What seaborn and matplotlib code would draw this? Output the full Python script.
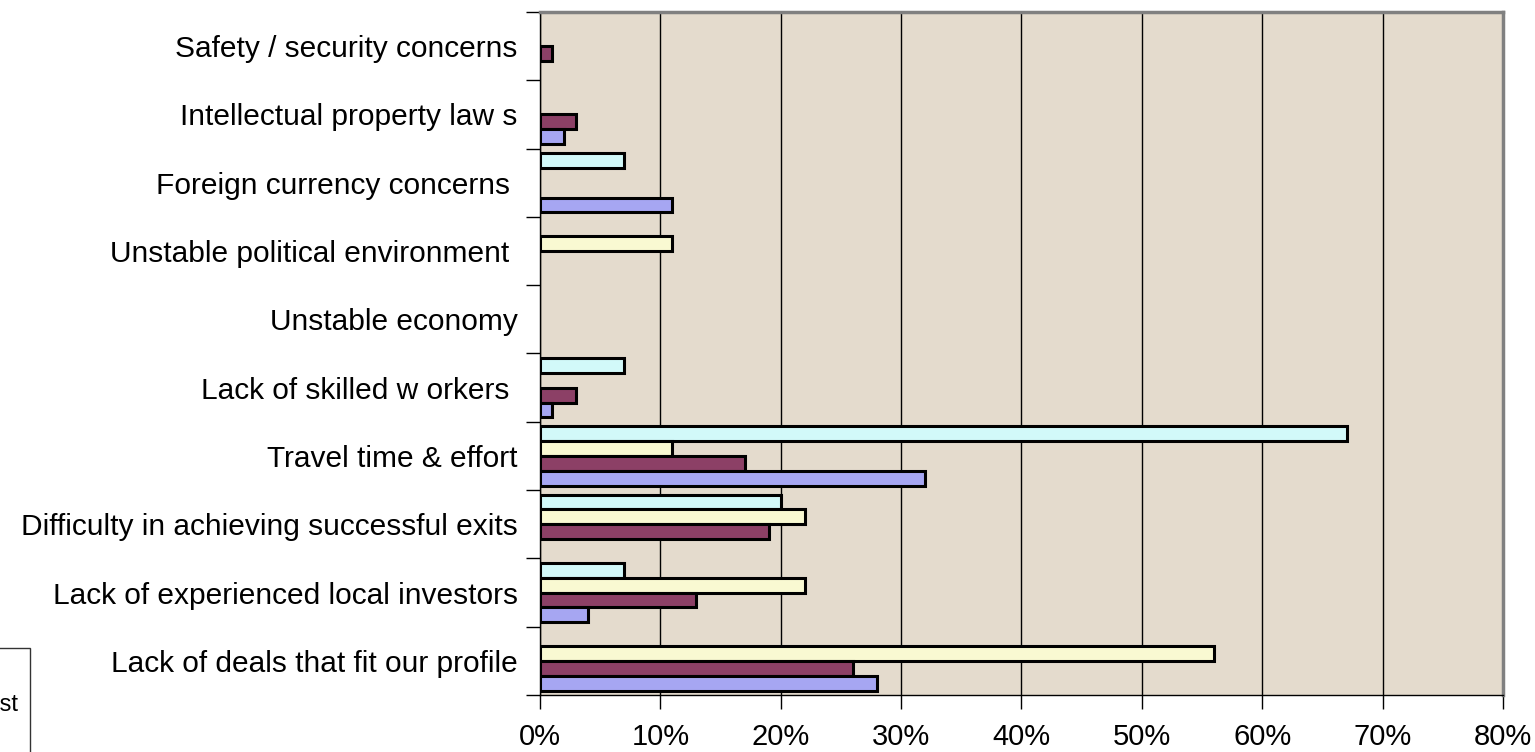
import pandas as pd
import matplotlib.pyplot as plt
import seaborn as sns
from matplotlib.ticker import FixedLocator, PercentFormatter

# Data (percent of respondents), categories top to bottom
categories = [
    "Safety / security concerns",
    "Intellectual property law s",
    "Foreign currency concerns ",
    "Unstable political environment ",
    "Unstable economy",
    "Lack of skilled w orkers ",
    "Travel time & effort",
    "Difficulty in achieving successful exits",
    "Lack of experienced local investors",
    "Lack of deals that fit our profile",
]
series_names = ["CEE", "Middle East", "Africa", "Asia"]
cee = [0, 0, 7, 0, 0, 7, 67, 20, 7, 0]
middle_east = [0, 0, 0, 11, 0, 0, 11, 22, 22, 56]
africa = [1, 3, 0, 0, 0, 3, 17, 19, 13, 26]
asia = [0, 2, 11, 0, 0, 1, 32, 0, 4, 28]
colors = ["#CCFFFF", "#FFFFCC", "#993366", "#9999FF"]
x_ticks = [0, 10, 20, 30, 40, 50, 60, 70, 80]

rows = []
for name, vals in zip(series_names, [cee, middle_east, africa, asia]):
    for cat, v in zip(categories, vals):
        rows.append({"Barrier": cat, "Region": name, "Share": v})
df = pd.DataFrame(rows)

sns.set_style("white")
plt.rcParams["font.family"] = ["Liberation Sans", "DejaVu Sans"]
plt.rcParams["text.color"] = "black"
plt.rcParams["xtick.color"] = "black"
plt.rcParams["ytick.color"] = "black"

fig = plt.figure(figsize=(15.35, 7.52), dpi=100)
ax = fig.add_axes([540 / 1535, 1 - 695 / 752, 963 / 1535, 683 / 752])
ax.set_facecolor("#E4DBCD")

sns.barplot(
    data=df,
    y="Barrier",
    x="Share",
    hue="Region",
    order=categories,
    hue_order=series_names,
    palette=colors,
    orient="h",
    width=0.87,
    edgecolor="black",
    linewidth=2.2,
    ax=ax,
)

# hide zero-length bars
for p in ax.patches:
    if p.get_width() == 0:
        p.set_visible(False)

ax.set_xlim(0, 80)
ax.set_ylim(len(categories) - 0.5, -0.5)
ax.xaxis.set_major_locator(FixedLocator(x_ticks))
ax.xaxis.set_major_formatter(PercentFormatter(decimals=0))
ax.grid(axis="x", color="black", linewidth=1)
ax.set_axisbelow(True)

# category labels at centres, tick marks at boundaries
ax.set_yticks(range(len(categories)))
ax.set_yticklabels(categories)
ax.set_yticks([i - 0.5 for i in range(len(categories) + 1)], minor=True)
ax.tick_params(axis="y", which="major", length=0, pad=16, labelsize=21.5)
ax.tick_params(axis="y", which="minor", left=True, length=10, width=1, color="black")
ax.tick_params(axis="x", bottom=True, length=10, width=1, color="black", pad=10, labelsize=21)
ax.set_xlabel("")
ax.set_ylabel("")

for side in ["left", "bottom"]:
    ax.spines[side].set_color("black")
    ax.spines[side].set_linewidth(1)
for side in ["top", "right"]:
    ax.spines[side].set_color("#808080")
    ax.spines[side].set_linewidth(2.5)

# legend mostly outside the left edge of the figure
handles, labels = ax.get_legend_handles_labels()
ax.legend_.remove()
leg = fig.legend(
    handles,
    labels,
    loc="upper right",
    bbox_to_anchor=(30 / 1535, 1 - 648 / 752),
    borderaxespad=0,
    fontsize=17,
    frameon=True,
    fancybox=False,
    labelspacing=0.5,
    borderpad=0.5,
    handletextpad=0.4,
)
leg.get_frame().set_edgecolor("black")
leg.get_frame().set_linewidth(1)

fig.savefig("out.png", dpi=100)
